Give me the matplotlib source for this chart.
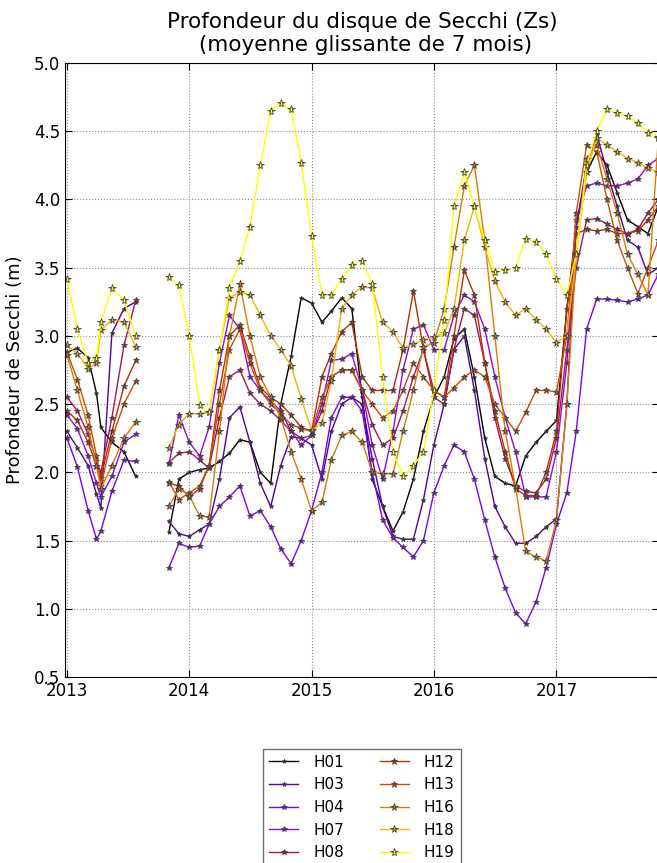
import numpy as np
import pandas as pd
import matplotlib.pyplot as plt
import matplotlib.dates as mdates

# dates des points (2 periodes de mesures)
dates1 = pd.to_datetime(['2013-01-01', '2013-02-01', '2013-03-05', '2013-03-30',
                         '2013-04-12', '2013-05-15', '2013-06-20', '2013-07-25'])
dates2 = pd.date_range('2013-11-01', periods=49, freq='MS')

stations = ['H01', 'H03', 'H04', 'H07', 'H08', 'H12', 'H13', 'H16', 'H18', 'H19']

# moyenne glissante de Zs (m), periode 1
H01_a = [2.88, 2.91, 2.84, 2.58, 2.33, 2.22, 2.15, 1.97]
H03_a = [2.30, 2.18, 2.05, 1.84, 1.74, 3.02, 3.20, 3.25]
H04_a = [2.25, 2.04, 1.72, 1.51, 1.57, 1.86, 2.09, 2.08]
H07_a = [2.42, 2.32, 2.12, 1.92, 1.82, 1.97, 2.22, 2.28]
H08_a = [2.55, 2.45, 2.28, 2.08, 2.00, 2.40, 2.93, 3.26]
H12_a = [2.45, 2.38, 2.22, 2.05, 1.96, 2.30, 2.63, 2.82]
H13_a = [2.88, 2.68, 2.42, 2.12, 1.90, 2.25, 2.50, 2.67]
H16_a = [2.86, 2.60, 2.33, 2.05, 1.88, 2.05, 2.25, 2.37]
H18_a = [2.93, 2.87, 2.76, 2.80, 3.04, 3.12, 3.10, 2.92]
H19_a = [3.42, 3.05, 2.80, 2.84, 3.10, 3.35, 3.26, 3.00]

# periode 2 (nov 2013 - nov 2017)
H01_b = [1.56, 1.95, 2.00, 2.02, 2.03, 2.08, 2.14, 2.24, 2.22, 2.00, 1.92, 2.50, 2.85,
         3.28, 3.24, 3.10, 3.18, 3.28, 3.20, 2.55, 1.95, 1.75, 1.57, 1.71, 1.95, 2.30,
         2.55, 2.70, 2.98, 3.05, 2.70, 2.25, 1.97, 1.92, 1.90, 2.12, 2.22, 2.30, 2.38,
         3.20, 3.80, 4.20, 4.35, 4.25, 4.05, 3.85, 3.80, 3.75, 3.95]
H03_b = [1.64, 1.55, 1.53, 1.58, 1.62, 1.95, 2.40, 2.48, 2.22, 1.92, 1.75, 2.05, 2.26,
         2.25, 2.20, 1.95, 2.30, 2.50, 2.55, 2.50, 2.10, 1.75, 1.53, 1.51, 1.51, 1.80,
         2.20, 2.50, 2.90, 3.00, 2.60, 2.10, 1.75, 1.60, 1.48, 1.48, 1.53, 1.60, 1.66,
         2.50, 3.80, 4.25, 4.48, 4.20, 3.95, 3.70, 3.65, 3.45, 3.50]
H04_b = [1.30, 1.48, 1.45, 1.46, 1.62, 1.75, 1.82, 1.90, 1.68, 1.72, 1.60, 1.44, 1.33,
         1.50, 1.72, 2.00, 2.40, 2.55, 2.55, 2.45, 2.00, 1.65, 1.52, 1.45, 1.38, 1.50,
         1.85, 2.05, 2.20, 2.15, 1.95, 1.65, 1.38, 1.15, 0.97, 0.89, 1.05, 1.30, 1.62,
         1.85, 2.30, 3.05, 3.27, 3.27, 3.26, 3.25, 3.27, 3.30, 3.45]
H07_b = [2.06, 2.42, 2.22, 2.12, 2.33, 2.80, 3.15, 3.05, 2.70, 2.60, 2.52, 2.45, 2.30,
         2.20, 2.27, 2.50, 2.82, 2.83, 2.87, 2.60, 2.20, 1.95, 2.30, 2.75, 3.05, 3.08,
         2.90, 2.90, 3.15, 3.30, 3.25, 3.05, 2.70, 2.40, 2.15, 1.82, 1.82, 1.82, 2.15,
         2.80, 3.85, 4.10, 4.12, 4.10, 4.10, 4.12, 4.15, 4.25, 4.30]
H08_b = [2.07, 2.14, 2.15, 2.09, 2.03, 2.40, 2.70, 2.75, 2.58, 2.50, 2.45, 2.38, 2.30,
         2.25, 2.27, 2.45, 2.70, 2.75, 2.75, 2.60, 2.35, 2.20, 2.25, 2.45, 2.70, 2.90,
         2.55, 2.50, 2.90, 3.20, 3.15, 2.80, 2.40, 2.10, 1.90, 1.86, 1.85, 1.95, 2.25,
         2.90, 3.50, 3.85, 3.86, 3.82, 3.78, 3.75, 3.78, 3.90, 4.00]
H12_b = [1.92, 1.90, 1.82, 1.88, 2.05, 2.60, 3.00, 3.08, 2.85, 2.62, 2.55, 2.50, 2.42,
         2.33, 2.30, 2.70, 2.87, 3.03, 3.10, 2.70, 2.60, 2.60, 2.60, 2.90, 3.33, 2.90,
         2.60, 2.55, 3.00, 3.48, 3.30, 2.80, 2.45, 2.15, 1.88, 1.83, 1.83, 2.00, 2.30,
         3.20, 3.75, 3.78, 3.77, 3.78, 3.75, 3.75, 3.77, 3.85, 3.95]
H13_b = [1.93, 1.80, 1.85, 1.90, 2.05, 2.50, 2.90, 3.05, 2.80, 2.60, 2.50, 2.43, 2.35,
         2.32, 2.30, 2.55, 2.70, 2.75, 2.75, 2.60, 2.50, 2.40, 2.45, 2.60, 2.80, 2.70,
         2.60, 2.55, 2.62, 2.70, 2.75, 2.70, 2.50, 2.40, 2.30, 2.44, 2.60, 2.60, 2.59,
         3.00, 3.90, 4.40, 4.35, 4.00, 3.70, 3.50, 3.31, 3.50, 3.70]
H16_b = [1.75, 1.88, 1.83, 1.68, 1.67, 2.30, 3.00, 3.38, 3.00, 2.70, 2.55, 2.40, 2.15,
         1.95, 1.72, 1.78, 2.09, 2.27, 2.30, 2.22, 2.00, 1.99, 1.99, 2.30, 2.60, 2.92,
         2.95, 3.20, 3.65, 4.10, 4.25, 3.70, 3.00, 2.30, 1.89, 1.42, 1.38, 1.35, 1.65,
         2.50, 3.60, 4.30, 4.40, 4.15, 3.90, 3.60, 3.45, 3.30, 4.45]
H18_b = [2.18, 2.35, 2.43, 2.43, 2.44, 2.90, 3.28, 3.32, 3.30, 3.15, 3.00, 2.90, 2.78,
         2.54, 2.31, 2.36, 2.67, 3.20, 3.30, 3.36, 3.35, 3.10, 3.03, 2.91, 2.94, 2.97,
         2.99, 3.02, 3.20, 3.70, 3.95, 3.65, 3.40, 3.25, 3.15, 3.20, 3.12, 3.05, 2.95,
         3.00, 3.60, 4.20, 4.45, 4.40, 4.35, 4.30, 4.27, 4.23, 4.20]
H19_b = [3.43, 3.37, 3.00, 2.49, 2.44, 2.90, 3.35, 3.55, 3.80, 4.25, 4.65, 4.71, 4.66,
         4.27, 3.73, 3.30, 3.30, 3.42, 3.52, 3.55, 3.38, 2.70, 2.15, 1.97, 2.05, 2.15,
         2.60, 3.12, 3.95, 4.20, 3.95, 3.70, 3.47, 3.48, 3.50, 3.71, 3.69, 3.60, 3.42,
         3.30, 3.60, 4.25, 4.50, 4.66, 4.63, 4.61, 4.56, 4.49, 4.46]

part1 = [H01_a, H03_a, H04_a, H07_a, H08_a, H12_a, H13_a, H16_a, H18_a, H19_a]
part2 = [H01_b, H03_b, H04_b, H07_b, H08_b, H12_b, H13_b, H16_b, H18_b, H19_b]

couleurs = plt.cm.gnuplot(np.linspace(0, 1, len(stations)))

fig = plt.figure(figsize=(6.57, 8.63), dpi=100)
ax = fig.add_axes([65/657, 1 - 677/863, 594/657, 614/863])

for i, st in enumerate(stations):
    ms = 3.2 + 0.3*i
    ax.plot(dates1, part1[i], '-*', color=couleurs[i], lw=1, ms=ms,
            mec='0.25', mew=0.6)
    ax.plot(dates2, part2[i], '-*', color=couleurs[i], lw=1, ms=ms,
            mec='0.25', mew=0.6, label=st)

ax.set_xlim(pd.Timestamp('2012-12-26'), pd.Timestamp('2017-11-03'))
ax.set_ylim(0.5, 5.0)
ax.set_yticks(np.arange(0.5, 5.01, 0.5))
ax.xaxis.set_major_locator(mdates.YearLocator())
ax.xaxis.set_major_formatter(mdates.DateFormatter('%Y'))
ax.tick_params(direction='in', top=True, right=True, labelsize=12, length=5)
ax.grid(True, linestyle=':', color='0.55', lw=0.8)
ax.set_ylabel('Profondeur de Secchi (m)', fontsize=13, labelpad=7)
ax.set_title('Profondeur du disque de Secchi (Zs)\n (moyenne glissante de 7 mois)',
             fontsize=15.5, linespacing=1.15, pad=9)

leg = fig.legend(loc='upper center', bbox_to_anchor=(362/657, 1 - 741/863),
                 ncol=2, fontsize=11, fancybox=False, edgecolor='0.3',
                 handlelength=1.9, handletextpad=1.0, columnspacing=2.3,
                 labelspacing=0.5)
leg.get_frame().set_linewidth(1)

fig.savefig('out.png', dpi=100)
